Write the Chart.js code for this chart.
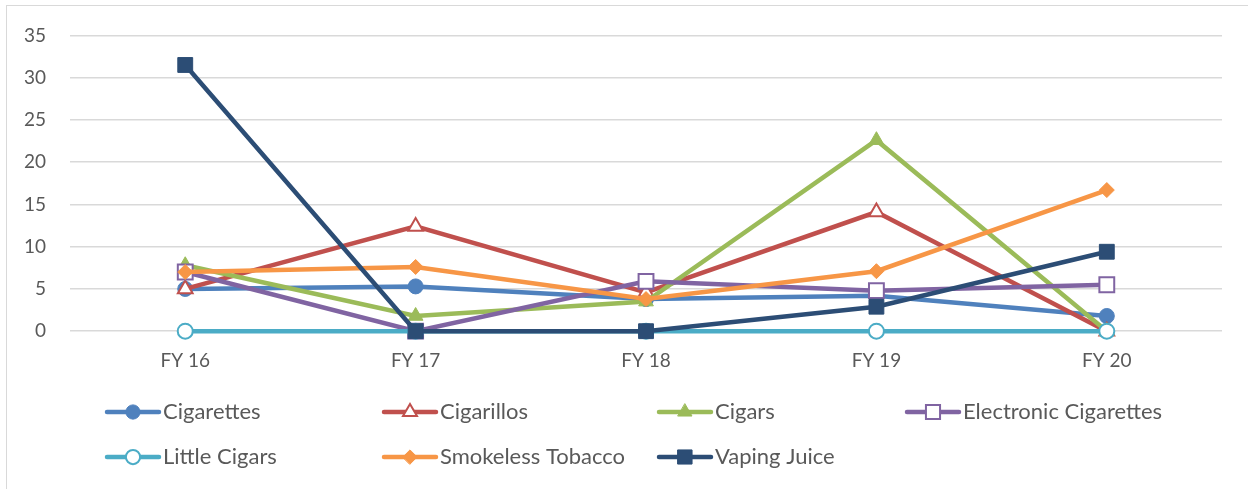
<!DOCTYPE html>
<html>
<head>
<meta charset="utf-8">
<script src="https://cdn.jsdelivr.net/npm/chart.js@4/dist/chart.umd.min.js"></script>
<style>
  html, body { margin: 0; padding: 0; background: #fff; }
  #wrap { position: relative; width: 1248px; height: 489px; }
  #frame { position: absolute; left: 6px; top: 5px; right: 0; bottom: 0; border-left: 1px solid #d9d9d9; border-top: 1px solid #d9d9d9; pointer-events: none; }
</style>
</head>
<body>
<div id="wrap">
  <canvas id="tobaccoChart" width="1248" height="489"></canvas>
  <div id="frame"></div>
</div>
<script>
// fiscal years on the x axis
const years = ["FY 16", "FY 17", "FY 18", "FY 19", "FY 20"];

const cigarettes = [5.0, 5.3, 3.8, 4.2, 1.8];
const cigarillos = [5.0, 12.4, 4.6, 14.1, 0];
const cigars = [7.8, 1.8, 3.5, 22.6, 0];
const eCigarettes = [7.0, 0, 5.9, 4.8, 5.5];
const littleCigars = [0, 0, 0, 0, 0];
const smokeless = [7.0, 7.6, 3.8, 7.1, 16.7];
const vapingJuice = [31.5, 0, 0, 2.9, 9.4];

const yTicks = [0, 5, 10, 15, 20, 25, 30, 35];

const textColor = "#595959";
const fontFamily = "Lato, 'Open Sans', sans-serif";

// marker size per point style so shapes look about the same size
const markerRadius = { circle: 7.5, triangle: 8.5, rect: 10.5, rectRot: 7.5 };

function series(label, data, color, style, hollow) {
    return {
        label: label,
        data: data,
        borderColor: color,
        backgroundColor: color,
        borderWidth: 4.5,
        pointStyle: style,
        pointRadius: markerRadius[style],
        pointBorderWidth: hollow ? 2 : 1,
        pointBackgroundColor: hollow ? "#ffffff" : color,
        pointBorderColor: color,
        fill: false,
        tension: 0,
        clip: false,
        hollow: hollow
    };
}

const datasets = [
    series("Cigarettes", cigarettes, "#4f81bd", "circle", false),
    series("Cigarillos", cigarillos, "#c0504d", "triangle", true),
    series("Cigars", cigars, "#9bbb59", "triangle", false),
    series("Electronic Cigarettes", eCigarettes, "#8064a2", "rect", true),
    series("Little Cigars", littleCigars, "#4bacc6", "circle", true),
    series("Smokeless Tobacco", smokeless, "#f79646", "rectRot", false),
    series("Vaping Juice", vapingJuice, "#2c4d75", "rect", false)
];
// later series sit on top, like the original
datasets.forEach((d, i) => { d.order = datasets.length - i; });

// legend laid out in a 4 column grid under the plot
const gridLegend = {
    id: "gridLegend",
    afterDraw(chart) {
        const ctx = chart.ctx;
        const cols = [105, 382, 657, 905];
        const rows = [412, 457];
        ctx.save();
        chart.data.datasets.forEach((ds, i) => {
            const x = cols[i % 4];
            const y = rows[Math.floor(i / 4)];
            ctx.strokeStyle = ds.borderColor;
            ctx.lineWidth = 4.5;
            ctx.lineCap = "round";
            ctx.beginPath();
            ctx.moveTo(x + 2, y);
            ctx.lineTo(x + 54, y);
            ctx.stroke();
            ctx.fillStyle = ds.hollow ? "#ffffff" : ds.borderColor;
            ctx.lineWidth = ds.hollow ? 2 : 1;
            Chart.helpers.drawPoint(ctx, {
                pointStyle: ds.pointStyle,
                radius: markerRadius[ds.pointStyle] * 0.95,
                rotation: 0,
                borderWidth: ds.hollow ? 2 : 1
            }, x + 28, y);
            ctx.fillStyle = textColor;
            ctx.font = "22px " + fontFamily;
            ctx.textBaseline = "middle";
            ctx.fillText(ds.label, x + 58, y);
        });
        ctx.restore();
    }
};

new Chart(document.getElementById("tobaccoChart"), {
    type: "line",
    data: { labels: years, datasets: datasets },
    plugins: [gridLegend],
    options: {
        responsive: false,
        animation: false,
        layout: { padding: { left: 0, right: 26, top: 28, bottom: 107 } },
        plugins: {
            legend: { display: false },
            tooltip: { enabled: false }
        },
        scales: {
            x: {
                offset: true,
                grid: { display: false },
                border: { display: false },
                ticks: { color: textColor, font: { family: fontFamily, size: 19 }, padding: 10, maxRotation: 0 }
            },
            y: {
                min: 0,
                max: 35,
                afterBuildTicks: axis => { axis.ticks = yTicks.map(v => ({ value: v })); },
                grid: { color: "#d9d9d9", lineWidth: 1.5, drawTicks: false },
                border: { display: false },
                ticks: { color: textColor, font: { family: fontFamily, size: 19 }, padding: 24 }
            }
        }
    }
});
</script>
</body>
</html>
